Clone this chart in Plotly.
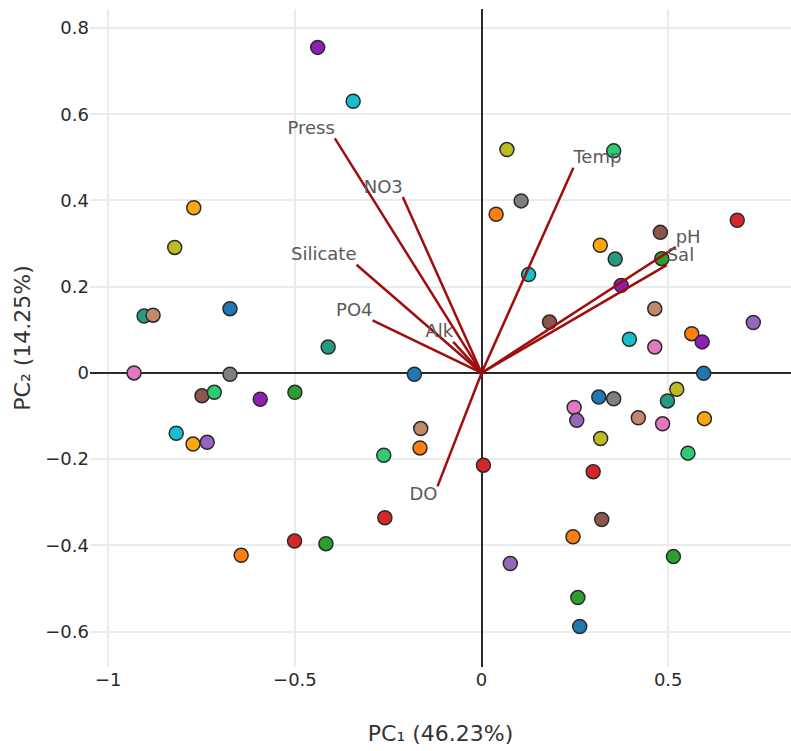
import plotly.graph_objects as go

# PCA scores of the samples (PC1, PC2) and the colour group of each sample
pc1 = [-0.439, -0.344, -0.771, -0.822, -0.904, -0.880, -0.674, -0.411, -0.931, -0.674,
       0.068, 0.354, 0.106, 0.039, 0.685, 0.479, 0.318, 0.358, 0.483, 0.126,
       0.374, 0.464, 0.182, 0.728, 0.563, 0.396, 0.591, 0.464, 0.595, -0.180,
       -0.749, -0.716, -0.593, -0.500, -0.818, -0.773, -0.735, -0.262, -0.259, -0.501,
       -0.417, -0.644, -0.163, -0.165, 0.005, 0.314, 0.354, 0.248, 0.255, 0.319,
       0.523, 0.498, 0.420, 0.485, 0.597, 0.553, 0.299, 0.322, 0.245, 0.077,
       0.514, 0.258, 0.263]
pc2 = [0.755, 0.630, 0.383, 0.291, 0.132, 0.134, 0.149, 0.060, 0.000, -0.003,
       0.518, 0.515, 0.399, 0.368, 0.354, 0.326, 0.296, 0.264, 0.265, 0.228,
       0.203, 0.149, 0.118, 0.117, 0.091, 0.078, 0.072, 0.060, -0.001, -0.003,
       -0.053, -0.045, -0.061, -0.045, -0.140, -0.165, -0.161, -0.191, -0.336, -0.390,
       -0.396, -0.423, -0.129, -0.174, -0.214, -0.056, -0.060, -0.080, -0.110, -0.152,
       -0.038, -0.065, -0.104, -0.118, -0.106, -0.186, -0.229, -0.340, -0.380, -0.442,
       -0.426, -0.521, -0.588]
groups = ["violet", "cyan", "amber", "olive", "teal", "tan", "blue", "teal", "pink", "gray",
          "olive", "lightgreen", "gray", "orange", "red", "brown", "amber", "teal", "green", "cyan",
          "violet", "tan", "brown", "lavender", "orange", "cyan", "violet", "pink", "blue", "blue",
          "brown", "lightgreen", "violet", "green", "cyan", "amber", "lavender", "lightgreen", "red", "red",
          "green", "orange", "tan", "orange", "red", "blue", "gray", "pink", "lavender", "olive",
          "olive", "teal", "tan", "pink", "amber", "lightgreen", "red", "brown", "orange", "lavender",
          "green", "green", "blue"]

# Variable loadings
variables = ["Press", "NO3", "Silicate", "PO4", "Alk", "Temp", "pH", "Sal", "DO"]
load1 = [-0.393, -0.211, -0.335, -0.292, -0.076, 0.246, 0.520, 0.496, -0.118]
load2 = [0.544, 0.408, 0.251, 0.122, 0.072, 0.476, 0.292, 0.250, -0.263]

x_title = "PC\u2081 (46.23%)"
y_title = "PC\u2082 (14.25%)"

palette = {
    "blue": "#1f77b4", "orange": "#ff7f0e", "green": "#2ca02c", "red": "#d62728",
    "lavender": "#9467bd", "brown": "#8c564b", "pink": "#e377c2", "gray": "#7f7f7f",
    "olive": "#bcbd22", "cyan": "#17becf", "violet": "#8e1fb5", "amber": "#ffa60f",
    "teal": "#279a82", "tan": "#c08a6a", "lightgreen": "#2ecc71",
}

fig = go.Figure()

fig.add_trace(go.Scatter(
    x=pc1, y=pc2, mode="markers",
    marker=dict(size=14, color=[palette[g] for g in groups],
                line=dict(color="#2b2b2b", width=1.5)),
    hoverinfo="x+y", showlegend=False,
))

# Loading vectors from the origin
lx, ly = [], []
for a, b in zip(load1, load2):
    lx += [0, a, None]
    ly += [0, b, None]
fig.add_trace(go.Scatter(
    x=lx, y=ly, mode="lines",
    line=dict(color="#a00d0d", width=2.5),
    hoverinfo="skip", showlegend=False,
))


def label_pos(a, b):
    if a >= 0:
        return "top right"
    return "top left" if b >= 0 else "bottom left"


fig.add_trace(go.Scatter(
    x=load1, y=load2, mode="text", text=variables,
    textposition=[label_pos(a, b) for a, b in zip(load1, load2)],
    textfont=dict(family="DejaVu Sans", size=18, color="#5a5a5a"),
    hoverinfo="skip", showlegend=False,
))

axis_common = dict(
    showgrid=True, gridcolor="#ebebeb", gridwidth=1.5,
    zeroline=True, zerolinecolor="#2a2a2a", zerolinewidth=1.5,
    showline=False, ticks="",
    tickfont=dict(family="DejaVu Sans", size=18, color="#2a2a2a"),
)

fig.update_layout(
    width=791, height=751,
    margin=dict(l=90, r=0, t=9, b=84),
    paper_bgcolor="white", plot_bgcolor="white",
    font=dict(family="DejaVu Sans", color="#2a2a2a"),
    xaxis=dict(range=[-1.049, 0.829], tickvals=[-1, -0.5, 0, 0.5],
               title=dict(text=x_title, font=dict(size=22, color="#333"), standoff=36),
               automargin=False, **axis_common),
    yaxis=dict(range=[-0.682, 0.844], tickvals=[-0.6, -0.4, -0.2, 0, 0.2, 0.4, 0.6, 0.8],
               title=dict(text=y_title, font=dict(size=22, color="#333"), standoff=8),
               automargin=False, **axis_common),
)

fig.write_html("out.html")
